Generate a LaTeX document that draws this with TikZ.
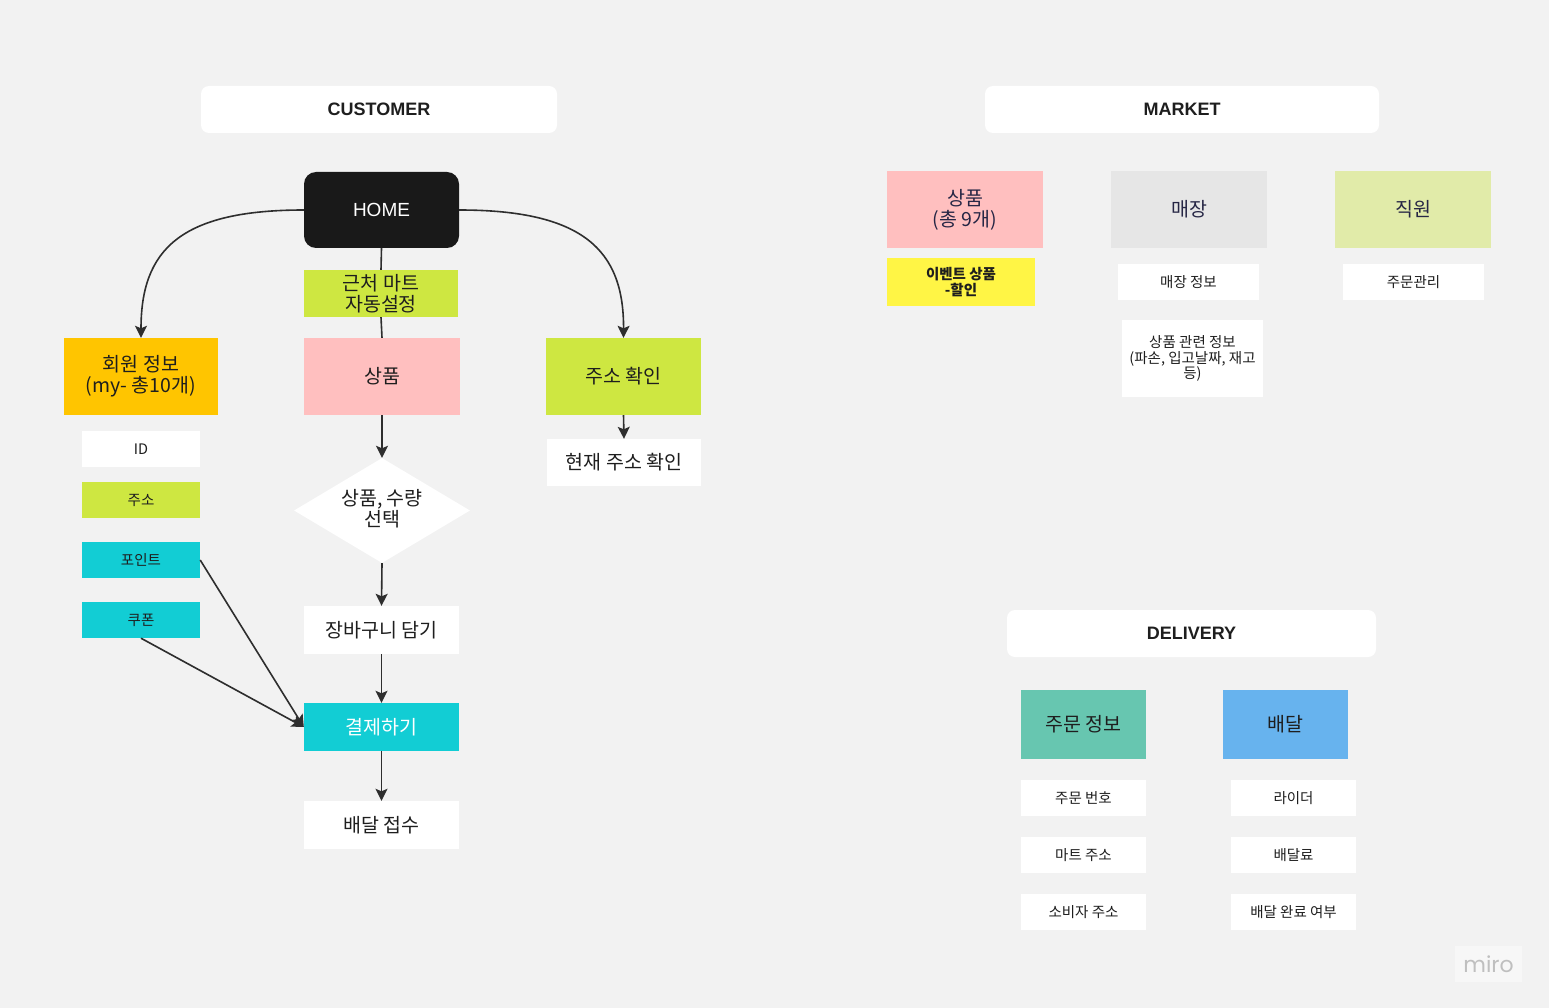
\documentclass[tikz,border=0pt]{standalone}
\usepackage{fontspec}
\setmainfont{Noto Sans CJK KR}
\newfontfamily\hdrfont{Liberation Sans}
\newfontfamily\mirofont{Poppins}
\usetikzlibrary{shapes.geometric,arrows.meta}
\definecolor{bg}{HTML}{F2F2F2}
\definecolor{lime}{HTML}{CEE741}
\definecolor{pinkc}{HTML}{FFBFBF}
\definecolor{orangec}{HTML}{FFC500}
\definecolor{cyanc}{HTML}{12CDD4}
\definecolor{yellowc}{HTML}{FFF545}
\definecolor{grayc}{HTML}{E6E6E6}
\definecolor{paleg}{HTML}{E1EBA9}
\definecolor{tealc}{HTML}{67C6B0}
\definecolor{bluec}{HTML}{67B3EE}
\definecolor{txt}{HTML}{1E1E1E}
\definecolor{navy}{HTML}{262645}
\definecolor{linec}{HTML}{2E2E2E}
\tikzset{
  box/.style={rectangle, inner sep=0pt, align=center, text=txt},
  hdr/.style={box, fill=white, rounded corners=8pt, font=\hdrfont\bfseries\fontsize{18}{21}\selectfont},
  big/.style={box, font=\fontsize{19.5}{21}\selectfont},
  small/.style={box, fill=white, font=\fontsize{14.5}{16}\selectfont},
  conn/.style={draw=linec, line width=1.6pt},
  arr/.style={conn, -{Stealth[length=12pt,width=12pt,inset=2.5pt]}}
}
\begin{document}
\begin{tikzpicture}[x=1pt,y=-1pt]
\fill[bg] (0,0) rectangle (1549,1008);
\useasboundingbox (0,0) rectangle (1549,1008);

% headers
\node[hdr, minimum width=356pt, minimum height=47pt] (hcust) at (379,109.5) {CUSTOMER};
\node[hdr, minimum width=394pt, minimum height=47pt] (hmark) at (1182,109.5) {MARKET};
\node[hdr, minimum width=369pt, minimum height=47pt] (hdel) at (1191.5,633.5) {DELIVERY};

% customer
\node[box, fill=black!90, text=white, rounded corners=12pt, minimum width=155pt, minimum height=76pt, font=\hdrfont\fontsize{19}{22}\selectfont] (home) at (381.5,210) {HOME};
\node[big, fill=lime, minimum width=154pt, minimum height=47pt] (near) at (381,293.5) {근처 마트\\자동설정};
\node[big, fill=pinkc, minimum width=156pt, minimum height=77pt] (prod) at (382,376.5) {상품};
\node[big, fill=orangec, minimum width=154pt, minimum height=77pt] (member) at (141,376.5) {회원 정보\\(my- 총10개)};
\node[big, fill=lime, minimum width=155pt, minimum height=77pt] (addr) at (623.5,376.5) {주소 확인};
\node[big, fill=white, minimum width=154pt, minimum height=47pt] (curaddr) at (624,462.5) {현재 주소 확인};

\node[small, minimum width=118pt, minimum height=36pt] (id) at (141,449) {ID};
\node[small, fill=lime, minimum width=118pt, minimum height=36pt] (juso) at (141,500) {주소};
\node[small, fill=cyanc, minimum width=118pt, minimum height=36pt] (point) at (141,560) {포인트};
\node[small, fill=cyanc, minimum width=118pt, minimum height=36pt] (coupon) at (141,620) {쿠폰};

\node[diamond, fill=white, inner sep=0pt, minimum width=176pt, minimum height=105pt] (dia) at (382,510.5) {};
\node[big, align=center] (diatext) at (382,509) {상품, 수량\\선택};

\node[big, fill=white, minimum width=155pt, minimum height=48pt] (cart) at (381.5,630) {장바구니 담기};
\node[big, fill=cyanc, text=white, minimum width=155pt, minimum height=48pt] (pay) at (381.5,727) {결제하기};
\node[big, fill=white, minimum width=155pt, minimum height=48pt] (recv) at (381.5,825) {배달 접수};

% connectors
\draw[arr] (home.west) .. controls (180,210) and (141,250) .. (member.north);
\draw[arr] (home.east) .. controls (583,210) and (624,250) .. (addr.north);
\draw[conn] (home.south) -- (near.north);
\draw[conn] (near.south) -- (prod.north);
\draw[arr] (prod.south) -- (dia.north);
\draw[arr] (dia.south) -- (cart.north);
\draw[arr] (cart.south) -- (pay.north);
\draw[arr] (pay.south) -- (recv.north);
\draw[arr] (addr.south) -- (curaddr.north);
\draw[arr] (point.east) -- (pay.west);
\draw[arr] (coupon.south) -- (pay.west);

% market
\node[big, fill=pinkc, text=navy, minimum width=156pt, minimum height=77pt] (mprod) at (965,209.5) {상품\\(총 9개)};
\node[box, fill=yellowc, minimum width=148pt, minimum height=48pt, font=\bfseries\fontsize{14.5}{16.5}\selectfont] (event) at (961,282) {이벤트 상품\\-할인};
\node[big, fill=grayc, text=navy, minimum width=156pt, minimum height=77pt] (store) at (1189,209.5) {매장};
\node[small, minimum width=141pt, minimum height=36pt] (storeinfo) at (1188.5,282) {매장 정보};
\node[small, minimum width=141pt, minimum height=77pt, font=\fontsize{14.5}{15.5}\selectfont] (prodinfo) at (1192.5,358.5) {상품 관련 정보\\(파손, 입고날짜, 재고\\등)};
\node[big, fill=paleg, text=navy, minimum width=156pt, minimum height=77pt] (staff) at (1413,209.5) {직원};
\node[small, minimum width=141pt, minimum height=36pt] (ordmgmt) at (1413.5,282) {주문관리};

% delivery
\node[big, fill=tealc, minimum width=125pt, minimum height=69pt] (ordinfo) at (1083.5,724.5) {주문 정보};
\node[big, fill=bluec, minimum width=125pt, minimum height=69pt] (dlv) at (1285.5,724.5) {배달};
\node[small, minimum width=125pt, minimum height=36pt] (ordnum) at (1083.5,798) {주문 번호};
\node[small, minimum width=125pt, minimum height=36pt] (martaddr) at (1083.5,855) {마트 주소};
\node[small, minimum width=125pt, minimum height=36pt] (consaddr) at (1083.5,912) {소비자 주소};
\node[small, minimum width=125pt, minimum height=36pt] (rider) at (1293.5,798) {라이더};
\node[small, minimum width=125pt, minimum height=36pt] (fee) at (1293.5,855) {배달료};
\node[small, minimum width=125pt, minimum height=36pt] (done) at (1293.5,912) {배달 완료 여부};

% miro mark
\node[box, fill=black!3, minimum width=67pt, minimum height=36pt, text=black!25, font=\mirofont\fontsize{22}{24}\selectfont] (miro) at (1488.5,964) {miro};
\end{tikzpicture}
\end{document}
